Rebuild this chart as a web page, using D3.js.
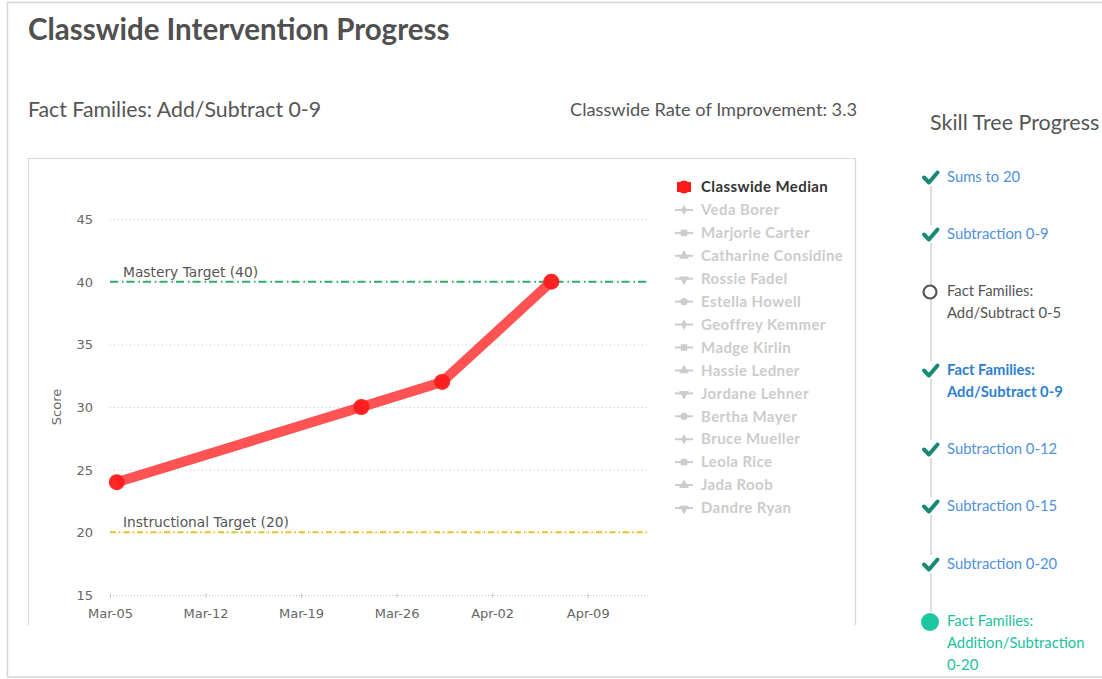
<!DOCTYPE html>
<html>
<head>
<meta charset="utf-8">
<script src="https://cdn.jsdelivr.net/npm/d3@7"></script>
<style>
  html, body { margin: 0; padding: 0; background: #fff; }
  svg { display: block; }
</style>
</head>
<body>
<svg id="chart" width="1102" height="679"></svg>
<script>
// ---------- data ----------
const medianDates = ["2018-03-05T12:00", "2018-03-23T10:00", "2018-03-29T08:00", "2018-04-06T08:00"];
const medianScores = [24, 30, 32, 40];
const yTicks = [15, 20, 25, 30, 35, 40, 45];
const xTickDates = ["2018-03-05", "2018-03-12", "2018-03-19", "2018-03-26", "2018-04-02", "2018-04-09"];
const xDomain = ["2018-03-05T00:00", "2018-04-13T10:00"];
const masteryTarget = 40;
const instructionalTarget = 20;
const legendNames = ["Classwide Median", "Veda Borer", "Marjorie Carter", "Catharine Considine", "Rossie Fadel",
  "Estella Howell", "Geoffrey Kemmer", "Madge Kirlin", "Hassie Ledner", "Jordane Lehner", "Bertha Mayer",
  "Bruce Mueller", "Leola Rice", "Jada Roob", "Dandre Ryan"];
const legendSymbols = ["circle", "diamond", "square", "triangle", "triangle-down", "circle", "diamond", "square",
  "triangle", "triangle-down", "circle", "diamond", "square", "triangle", "triangle-down"];
const skillNames = [["Sums to 20"], ["Subtraction 0-9"], ["Fact Families:", "Add/Subtract 0-5"],
  ["Fact Families:", "Add/Subtract 0-9"], ["Subtraction 0-12"], ["Subtraction 0-15"], ["Subtraction 0-20"],
  ["Fact Families:", "Addition/Subtraction", "0-20"]];
const skillStatus = ["done", "done", "open", "current", "done", "done", "done", "active"];
const rateOfImprovement = 3.3;

// ---------- drawing ----------
const svg = d3.select("#chart");
const parse = d3.isoParse;

// outer panel
svg.append("rect").attr("x", 7.5).attr("y", 2.5).attr("width", 1110).attr("height", 674.5)
  .attr("fill", "#fff").attr("stroke", "#d6d6d6").attr("stroke-width", 1.5);

svg.append("text").attr("x", 28).attr("y", 40)
  .attr("font-family", "Lato").attr("font-weight", "bold").attr("font-size", 29.5)
  .attr("fill", "#505050").text("Classwide Intervention Progress");

svg.append("text").attr("x", 28).attr("y", 117)
  .attr("font-family", "Lato").attr("font-size", 21.3)
  .attr("fill", "#555").text("Fact Families: Add/Subtract 0-9");

svg.append("text").attr("x", 857).attr("y", 116).attr("text-anchor", "end")
  .attr("font-family", "Lato").attr("font-size", 18.2)
  .attr("fill", "#555").text("Classwide Rate of Improvement: " + rateOfImprovement);

// chart frame (bottom cut)
svg.append("path").attr("d", "M28.5,625 V158.5 H855.5 V625")
  .attr("fill", "none").attr("stroke", "#d8d8d8").attr("stroke-width", 1.2);

const x = d3.scaleTime().domain(xDomain.map(parse)).range([110, 648]);
const y = d3.scaleLinear().domain([15, 45]).range([595, 219]);

// grid
const g = svg.append("g");
g.selectAll("line.grid").data(yTicks.filter(d => d !== 15)).join("line")
  .attr("x1", 110).attr("x2", 648).attr("y1", d => y(d) + 0.5).attr("y2", d => y(d) + 0.5)
  .attr("stroke", "#c8c8c8").attr("stroke-width", 1).attr("stroke-dasharray", "1,3");

// y axis labels
const yAxis = d3.axisLeft(y).tickValues(yTicks).tickSize(0).tickPadding(0);
const yg = svg.append("g").attr("transform", "translate(93,0)").call(yAxis);
yg.select(".domain").remove();
yg.selectAll("text").attr("font-family", "DejaVu Sans").attr("font-size", 13).attr("fill", "#666")
  .attr("dy", "0.35em");

// x axis
const xAxis = d3.axisBottom(x).tickValues(xTickDates.map(parse)).tickFormat(d3.timeFormat("%b-%d"))
  .tickSize(5).tickPadding(6);
const xg = svg.append("g").attr("transform", `translate(0,${y(15) - 2})`).call(xAxis);
xg.select(".domain").attr("stroke", "#c0c8d8").attr("stroke-dasharray", "1,2").attr("d", "M110,2.5H648");
xg.selectAll(".tick line").attr("stroke", "#c0c8d8").attr("y1", 0).attr("y2", 5);
xg.selectAll("text").attr("font-family", "DejaVu Sans").attr("font-size", 13).attr("fill", "#666")
  .attr("y", 16);

// target lines
svg.append("line").attr("x1", 110).attr("x2", 648).attr("y1", y(masteryTarget)).attr("y2", y(masteryTarget))
  .attr("stroke", "#2fae6b").attr("stroke-width", 2).attr("stroke-dasharray", "8,4,1.5,3");
svg.append("text").attr("x", 123).attr("y", y(masteryTarget) - 5)
  .attr("font-family", "DejaVu Sans").attr("font-size", 13.8).attr("fill", "#555")
  .text(`Mastery Target (${masteryTarget})`);

svg.append("line").attr("x1", 110).attr("x2", 648).attr("y1", y(instructionalTarget)).attr("y2", y(instructionalTarget))
  .attr("stroke", "#e9c32a").attr("stroke-width", 2).attr("stroke-dasharray", "6,3,1.5,3");
svg.append("text").attr("x", 123).attr("y", y(instructionalTarget) - 5)
  .attr("font-family", "DejaVu Sans").attr("font-size", 13.8).attr("fill", "#555")
  .text(`Instructional Target (${instructionalTarget})`);

// Score label
svg.append("text").attr("transform", `translate(61,${y(30)}) rotate(-90)`).attr("text-anchor", "middle")
  .attr("font-family", "DejaVu Sans").attr("font-size", 13).attr("fill", "#666").text("Score");

// median line
const pts = medianDates.map((d, i) => ({ date: parse(d), v: medianScores[i] }));
svg.append("path").datum(pts)
  .attr("d", d3.line().x(d => x(d.date)).y(d => y(d.v)))
  .attr("fill", "none").attr("stroke", "#ff4040").attr("stroke-opacity", 0.9).attr("stroke-width", 10)
  .attr("stroke-linejoin", "round");
svg.selectAll("circle.pt").data(pts).join("circle")
  .attr("cx", d => x(d.date)).attr("cy", d => y(d.v)).attr("r", 8)
  .attr("fill", "#ff1a1a").attr("fill-opacity", 0.95);

// legend
const symMap = {
  "circle": d3.symbolCircle, "diamond": d3.symbolDiamond, "square": d3.symbolSquare,
  "triangle": d3.symbolTriangle, "triangle-down": d3.symbolTriangle
};
const leg = svg.append("g");
legendNames.forEach((name, i) => {
  const cy = 187 + i * 22.93;
  const row = leg.append("g").attr("transform", `translate(0,${cy})`);
  if (i === 0) {
    row.append("line").attr("x1", 677).attr("x2", 691).attr("stroke", "#ff1a1a").attr("stroke-width", 10);
    row.append("circle").attr("cx", 684).attr("r", 6.5).attr("fill", "#ff1a1a");
  } else {
    row.append("line").attr("x1", 675).attr("x2", 693).attr("stroke", "#cccccc").attr("stroke-width", 2);
    const sym = legendSymbols[i];
    row.append("path")
      .attr("d", d3.symbol().type(symMap[sym]).size(sym === "diamond" ? 30 : 42)())
      .attr("transform", `translate(684,${sym === "triangle-down" ? 0.5 : 0}) ${sym === "triangle-down" ? "rotate(180)" : ""}`)
      .attr("fill", "#cccccc");
  }
  row.append("text").attr("x", 701).attr("dy", "0.35em")
    .attr("font-family", "Lato").attr("font-weight", "bold").attr("font-size", 15)
    .attr("letter-spacing", 0.4)
    .attr("fill", i === 0 ? "#333" : "#cccccc").text(name);
});

// skill tree
svg.append("text").attr("x", 930).attr("y", 130)
  .attr("font-family", "Lato").attr("font-size", 21.5).attr("fill", "#555").text("Skill Tree Progress");

const skillY = [177, 234, 291, 370, 449, 506, 564, 621];
svg.append("line").attr("x1", 931).attr("x2", 931).attr("y1", 184).attr("y2", 612)
  .attr("stroke", "#dcdcdc").attr("stroke-width", 2);

skillNames.forEach((lines, i) => {
  const cy = skillY[i];
  const st = skillStatus[i];
  const sg = svg.append("g").attr("transform", `translate(0,${cy})`);
  if (st === "done" || st === "current") {
    sg.append("rect").attr("x", 921).attr("y", -9).attr("width", 20).attr("height", 18).attr("fill", "#fff");
    sg.append("path").attr("d", "M924,0.5 L929,5.5 L937.5,-4.5")
      .attr("fill", "none").attr("stroke", "#168a73").attr("stroke-width", 4)
      .attr("stroke-linecap", "round").attr("stroke-linejoin", "round");
  } else if (st === "open") {
    sg.append("circle").attr("cx", 930).attr("cy", 1).attr("r", 6.5)
      .attr("fill", "#fff").attr("stroke", "#555").attr("stroke-width", 2.2);
  } else {
    sg.append("circle").attr("cx", 930).attr("cy", 1).attr("r", 9).attr("fill", "#1dc7a2");
  }
  const color = st === "open" ? "#555" : st === "active" ? "#22bfa0" : st === "current" ? "#2f7fd0" : "#4f91dc";
  lines.forEach((t, j) => {
    sg.append("text").attr("x", 947).attr("y", j * 21.7).attr("dy", "0.35em")
      .attr("font-family", "Lato").attr("font-size", 14.8)
      .attr("font-weight", st === "current" ? "bold" : "normal")
      .attr("fill", color).text(t);
  });
});
</script>
</body>
</html>
